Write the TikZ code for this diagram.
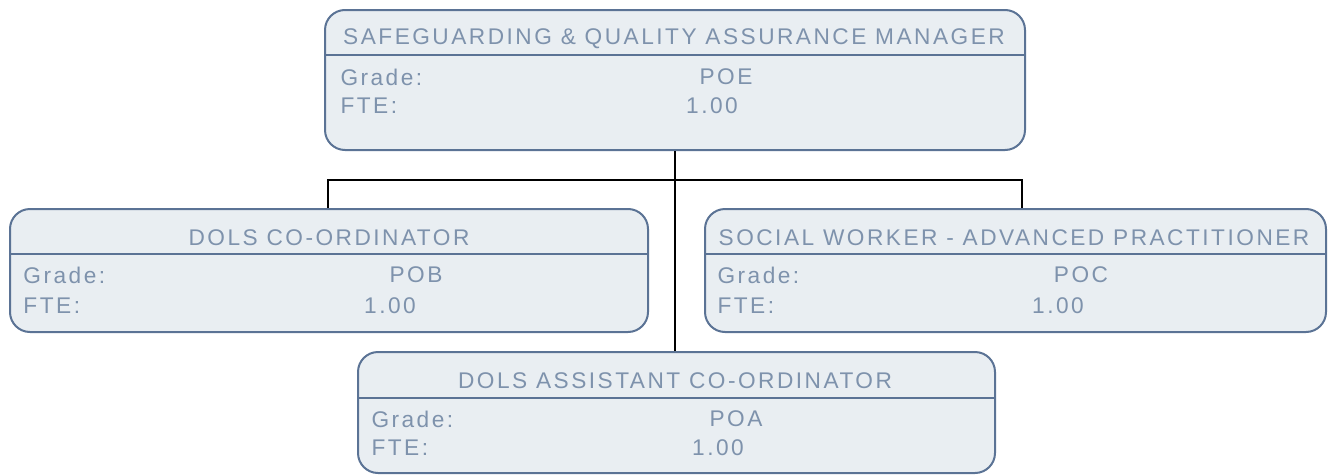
\documentclass[tikz,border=0pt]{standalone}
\usepackage{fontspec}
\newfontfamily\orgfont[LetterSpace=11]{Liberation Sans}
\definecolor{boxfill}{HTML}{E9EEF2}
\definecolor{boxline}{HTML}{5B7395}
\definecolor{boxtext}{HTML}{7E92AC}
\tikzset{every picture/.style={line width=0.75pt}}
\tikzset{
  rolebox/.style={draw=boxline, fill=boxfill, line width=1.5, rounded corners=15pt, inner sep=0pt},
  divline/.style={draw=boxline, line width=1.5},
  rolelabel/.style={text=boxtext, font=\orgfont\fontsize{17}{20}\selectfont, inner sep=0.75pt},
  link/.style={draw=black, line width=1.5}
}

\begin{document}
\begin{tikzpicture}[x=0.75pt,y=0.75pt,yscale=-1,xscale=1]
\useasboundingbox (0,0) rectangle (1328,475);

%Boxes
\node [rolebox, minimum width=525pt, minimum height=105pt] (mgr) at (675,80) {};
\node [rolebox, minimum width=478.5pt, minimum height=92.25pt] (dols) at (329,270.5) {};
\node [rolebox, minimum width=465.75pt, minimum height=92.25pt] (sw) at (1015.5,270.5) {};
\node [rolebox, minimum width=477.75pt, minimum height=90.75pt] (asst) at (676.5,412.5) {};

%Header dividers
\draw [divline] (mgr.west |- 0,55) -- (mgr.east |- 0,55) ;
\draw [divline] (dols.west |- 0,254) -- (dols.east |- 0,254) ;
\draw [divline] (sw.west |- 0,254) -- (sw.east |- 0,254) ;
\draw [divline] (asst.west |- 0,398) -- (asst.east |- 0,398) ;

%Connectors
\coordinate (jl) at (328,180) ;
\coordinate (jr) at (1022,180) ;
\draw [link] (mgr.south) -- (mgr.south |- asst.north) ;
\draw [link] (jl |- dols.north) -- (jl) -- (jr) -- (jr |- sw.north) ;

% Text Node
\node [rolelabel] (mgrtitle) at (674,39) {SAFEGUARDING \& QUALITY ASSURANCE MANAGER};
\node [rolelabel, anchor=west] (mgrgrade) at (339,77) {Grade:};
\node [rolelabel] (mgrgval) at (726,77) {POE};
\node [rolelabel, anchor=west] (mgrfte) at (339,106) {FTE:};
\node [rolelabel] (mgrfval) at (712,106) {1.00};
% Text Node
\node [rolelabel] (dolstitle) at (329,238) {DOLS CO-ORDINATOR};
\node [rolelabel, anchor=west] (dolsgrade) at (22,275) {Grade:};
\node [rolelabel] (dolsgval) at (416,275) {POB};
\node [rolelabel, anchor=west] (dolsfte) at (22,306) {FTE:};
\node [rolelabel] (dolsfval) at (390,306) {1.00};
% Text Node
\node [rolelabel] (swtitle) at (1014,238) {SOCIAL WORKER - ADVANCED PRACTITIONER};
\node [rolelabel, anchor=west] (swgrade) at (716,275) {Grade:};
\node [rolelabel] (swgval) at (1081,275) {POC};
\node [rolelabel, anchor=west] (swfte) at (716,306) {FTE:};
\node [rolelabel] (swfval) at (1058,306) {1.00};
% Text Node
\node [rolelabel] (assttitle) at (675,381) {DOLS ASSISTANT CO-ORDINATOR};
\node [rolelabel, anchor=west] (asstgrade) at (370,419) {Grade:};
\node [rolelabel] (asstgval) at (736,419) {POA};
\node [rolelabel, anchor=west] (asstfte) at (370,448) {FTE:};
\node [rolelabel] (asstfval) at (718,448) {1.00};

\end{tikzpicture}
\end{document}
